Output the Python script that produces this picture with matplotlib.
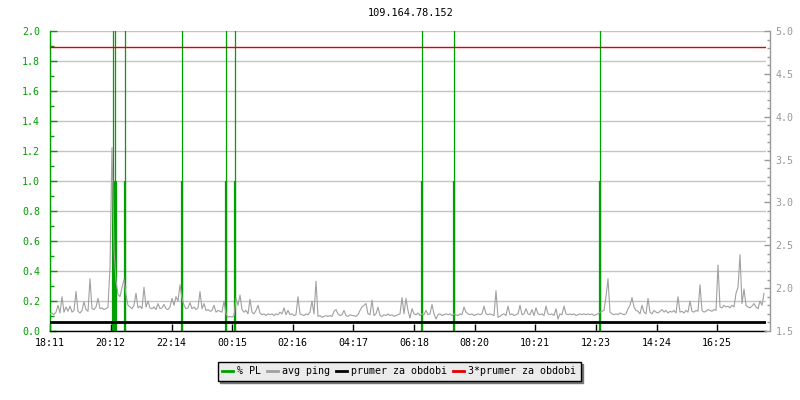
import matplotlib
matplotlib.use("Agg")
import matplotlib.pyplot as plt
import numpy as np
from matplotlib.ticker import MultipleLocator, FixedLocator

plt.rcParams['font.family'] = ['DejaVu Sans Mono']

title = "109.164.78.152"
tick_labels = ["18:11", "20:12", "22:14", "00:15", "02:16", "04:17",
               "06:18", "08:20", "10:21", "12:23", "14:24", "16:25"]
tick_minutes = [0, 121, 243, 364, 485, 606, 728, 849, 970, 1092, 1213, 1334]

# avg ping [ms], one sample every 4 minutes starting 18:11
avg_ping = [
    1.70, 1.71, 1.69, 1.72, 1.80, 1.71, 1.90, 1.72, 1.78, 1.73,
    1.79, 1.72, 1.74, 1.96, 1.73, 1.71, 1.74, 1.84, 1.75, 1.73,
    2.11, 1.76, 1.75, 1.78, 1.88, 1.76, 1.77, 1.75, 1.76, 1.78,
    2.25, 3.64, 2.45, 2.08, 1.93, 1.90, 2.01, 2.10, 1.92, 1.80,
    1.78, 1.76, 1.80, 1.94, 1.77, 1.79, 1.76, 2.01, 1.78, 1.85,
    1.77, 1.76, 1.78, 1.75, 1.82, 1.76, 1.77, 1.81, 1.76, 1.75,
    1.78, 1.88, 1.80, 1.90, 1.85, 2.04, 1.88, 1.80, 1.76, 1.77,
    1.83, 1.76, 1.78, 1.75, 1.77, 1.96, 1.76, 1.82, 1.74, 1.75,
    1.73, 1.74, 1.80, 1.72, 1.74, 1.73, 1.72, 1.85, 1.70, 1.66,
    1.67, 1.66, 1.68, 1.88, 1.80, 1.92, 1.75, 1.72, 1.74, 1.70,
    1.87, 1.72, 1.70, 1.74, 1.80, 1.71, 1.69, 1.70, 1.68, 1.70,
    1.69, 1.70, 1.68, 1.70, 1.69, 1.72, 1.70, 1.77, 1.69, 1.74,
    1.69, 1.70, 1.68, 1.69, 1.90, 1.70, 1.69, 1.68, 1.70, 1.69,
    1.72, 1.85, 1.70, 2.08, 1.67, 1.68, 1.66, 1.67, 1.68, 1.67,
    1.68, 1.67, 1.73, 1.75, 1.70, 1.68, 1.69, 1.74, 1.68, 1.67,
    1.69, 1.68, 1.68, 1.67, 1.69, 1.74, 1.78, 1.80, 1.82, 1.70,
    1.69, 1.86, 1.68, 1.70, 1.78, 1.68, 1.67, 1.69, 1.68, 1.70,
    1.68, 1.69, 1.67, 1.68, 1.69, 1.70, 1.89, 1.70, 1.88, 1.74,
    1.65, 1.76, 1.70, 1.69, 1.71, 1.68, 1.70, 1.69, 1.74, 1.69,
    1.70, 1.81, 1.70, 1.64, 1.69, 1.70, 1.68, 1.69, 1.70, 1.69,
    1.70, 1.68, 1.70, 1.69, 1.68, 1.70, 1.69, 1.78, 1.72, 1.70,
    1.69, 1.70, 1.68, 1.69, 1.70, 1.69, 1.70, 1.79, 1.70, 1.69,
    1.70, 1.69, 1.68, 1.97, 1.66, 1.67, 1.69, 1.70, 1.68, 1.79,
    1.69, 1.70, 1.68, 1.69, 1.70, 1.80, 1.69, 1.70, 1.76, 1.70,
    1.69, 1.75, 1.68, 1.77, 1.70, 1.69, 1.70, 1.68, 1.79, 1.70,
    1.69, 1.70, 1.68, 1.76, 1.64, 1.70, 1.69, 1.79, 1.70, 1.69,
    1.70, 1.69, 1.70, 1.68, 1.69, 1.70, 1.69, 1.70, 1.69, 1.70,
    1.69, 1.70, 1.68, 1.69, 1.70, 1.72, 1.73, 1.74, 1.90, 2.11,
    1.72, 1.70, 1.69, 1.70, 1.69, 1.71, 1.70, 1.69, 1.70, 1.76,
    1.80, 1.89, 1.78, 1.74, 1.73, 1.70, 1.80, 1.72, 1.70, 1.88,
    1.72, 1.70, 1.74, 1.72, 1.71, 1.73, 1.75, 1.72, 1.74, 1.71,
    1.73, 1.72, 1.74, 1.71, 1.90, 1.72, 1.73, 1.71, 1.74, 1.72,
    1.85, 1.73, 1.72, 1.74, 1.73, 2.04, 1.74, 1.72, 1.73, 1.75,
    1.74, 1.73, 1.75, 1.74, 2.27, 1.78, 1.77, 1.80, 1.78, 1.79,
    1.77, 1.80, 1.78, 1.94, 2.01, 2.39, 1.82, 1.99, 1.80, 1.78,
    1.77, 1.79, 1.82, 1.78, 1.76, 1.85, 1.80, 1.94,
]
sample_step_min = 4

# packet loss events (minutes since start)
pl_minutes = [125, 129, 149, 263, 351, 369, 744, 808, 1099]
pl_high = [5.0, 5.0, 5.0, 5.0, 5.0, 5.0, 5.0, 5.0, 5.0]
pl_low_minutes = [125, 129, 131, 149, 263, 351, 369, 744, 808, 1099]
pl_low = [1.0, 1.0, 1.0, 1.0, 1.0, 1.0, 1.0, 1.0, 1.0, 1.0]

prumer = 1.605
prumer3 = 3 * prumer

GREEN = '#00a000'
GRAY = '#a0a0a0'
AXGRAY = '#999999'
GRID = '#c4c4c4'

fig = plt.figure(figsize=(8, 4), dpi=100)
ax = fig.add_axes([50/800, 1-331/400, 716/800, 300/400])
ax2 = ax.twinx()

ax.set_xlim(0, 1432)
ax.set_ylim(0, 2.0)
ax2.set_ylim(1.5, 5.0)

# grid
ax.yaxis.set_major_locator(MultipleLocator(0.2))
ax.yaxis.set_minor_locator(MultipleLocator(0.1))
ax.grid(axis='y', color=GRID, lw=1.0, zorder=0)
ax.set_axisbelow(True)

# packet loss
ax.vlines(pl_minutes, 0, pl_high, color=GREEN, lw=0.9, zorder=2)
ax.vlines(pl_low_minutes, 0, pl_low, color=GREEN, lw=1.6, zorder=2)

# ping on right axis
t = np.arange(len(avg_ping)) * sample_step_min
ax2.plot(t, avg_ping, color=GRAY, lw=0.8, zorder=3)
ax2.axhline(prumer, color='black', lw=2.0, zorder=4)
ax2.axhline(prumer3, color='#e00000', lw=1.0, zorder=4)

# x axis
ax.xaxis.set_major_locator(FixedLocator(tick_minutes))
ax.set_xticklabels(tick_labels)
ax.tick_params(axis='x', direction='in', length=5, width=1, color='black',
               labelsize=7.2, pad=5)

# left axis
ax.yaxis.set_major_formatter(matplotlib.ticker.FormatStrFormatter('%.1f'))
ax.tick_params(axis='y', which='major', direction='in', length=5, width=1,
               color=GREEN, labelcolor=GREEN, labelsize=7.2, pad=7)
ax.tick_params(axis='y', which='minor', direction='in', length=3, width=1,
               color=GREEN)

# right axis
ax2.yaxis.set_major_locator(MultipleLocator(0.5))
ax2.yaxis.set_minor_locator(MultipleLocator(0.1))
ax2.yaxis.set_major_formatter(matplotlib.ticker.FormatStrFormatter('%.1f'))
ax2.tick_params(axis='y', which='major', direction='in', length=4, width=1,
                color=AXGRAY, labelcolor=AXGRAY, labelsize=7.2, pad=4)
ax2.tick_params(axis='y', which='minor', direction='in', length=2.5, width=1,
                color=AXGRAY)

for a in (ax, ax2):
    a.spines['top'].set_visible(False)
ax.spines['right'].set_visible(False)
ax2.spines['left'].set_visible(False)
ax2.spines['bottom'].set_visible(False)
ax.spines['left'].set_color(GREEN)
ax.spines['left'].set_linewidth(1.0)
ax.spines['bottom'].set_color('black')
ax.spines['bottom'].set_linewidth(1.0)
ax2.spines['right'].set_color(AXGRAY)
ax2.spines['right'].set_linewidth(1.0)
ax2.spines['right'].set_position(('outward', 3))

fig.text(411/800, 1-13/400, title, ha='center', va='center', fontsize=7.4,
         color='black')

from matplotlib.lines import Line2D
handles = [Line2D([], [], color=GREEN, lw=2),
           Line2D([], [], color=GRAY, lw=2),
           Line2D([], [], color='black', lw=2),
           Line2D([], [], color='#e00000', lw=2)]
labels = ["% PL", "avg ping", "prumer za obdobi", "3*prumer za obdobi"]
leg = fig.legend(handles, labels, loc='center', bbox_to_anchor=(0.499, 0.0725),
                 ncol=4, fontsize=7.2, frameon=True, fancybox=False,
                 shadow={'color': '#777777', 'alpha': 1.0},
                 handlelength=1.1, handletextpad=0.4, columnspacing=0.6,
                 borderpad=0.45, borderaxespad=0)
leg.get_frame().set_facecolor('#ebebeb')
leg.get_frame().set_edgecolor('black')
leg.get_frame().set_linewidth(1.0)
leg.get_frame().set_alpha(1.0)

fig.savefig('out.png', dpi=100)
